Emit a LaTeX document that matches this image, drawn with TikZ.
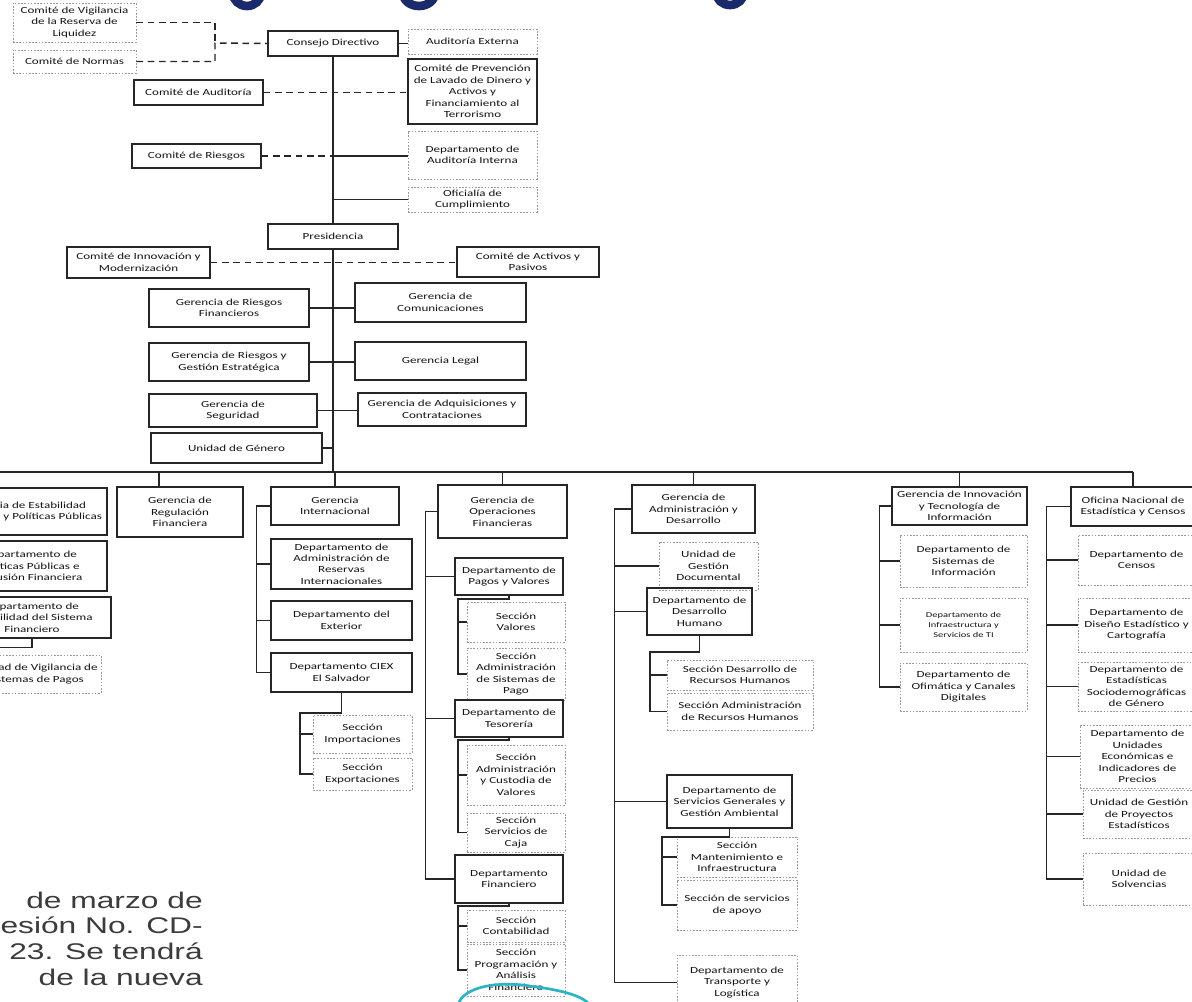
\documentclass[tikz,border=0pt]{standalone}
\usepackage{fontspec}
\setmainfont{Carlito}[FakeStretch=1.4]
\newfontfamily\notefont{Liberation Sans}[FakeStretch=1.4]
\definecolor{inkgray}{HTML}{262626}
\definecolor{softgray}{HTML}{9A9A9A}
\definecolor{titleblue}{HTML}{1B2A6B}
\definecolor{penblue}{HTML}{2DB3C6}
\definecolor{notegray}{HTML}{3C3C3C}
\tikzset{
  boxspan/.style n args={4}{at={({(#1+#3)/2},{(#2+#4)/2})}, minimum width={(#3-#1)*0.75pt}, minimum height={(#4-#2)*0.75pt}},
  orgbox/.style={align=center, inner sep=0pt, font=\fontsize{7}{8.6}\selectfont, text=black!92},
  solidbox/.style={orgbox, draw=inkgray, line width=1.1pt},
  dotbox/.style={orgbox, draw=softgray, line width=0.5pt, dash pattern=on 1.2pt off 1.2pt},
  link/.style={draw=inkgray, line width=1.1pt},
  dashlink/.style={link, dash pattern=on 5pt off 3.5pt},
  note/.style={anchor=base east, inner sep=0pt, font=\notefont\fontsize{17}{20}\selectfont, text=notegray}
}

\begin{document}
\begin{tikzpicture}[x=0.75pt,y=-0.75pt]
\useasboundingbox (0,0) rectangle (1192,1002);
\clip (0,0) rectangle (1192,1002);
\fill[white] (0,0) rectangle (1192,1002);

% cut title
\draw[titleblue, line width=6.5pt] (261,-7) arc[start angle=0, end angle=180, x radius=14, y radius=13];
\draw[titleblue, line width=6.5pt] (435,-7) arc[start angle=0, end angle=180, x radius=16, y radius=13];
\draw[titleblue, line width=6.5pt] (744,-8) arc[start angle=0, end angle=180, x radius=14, y radius=13];

% consejo y comites
\node[dotbox, boxspan={13}{3}{136}{42}] (c_vig) {Comité de Vigilancia\\de la Reserva de\\Liquidez};
\node[dotbox, boxspan={13}{50}{136}{73}] (c_nor) {Comité de Normas};
\node[solidbox, boxspan={268}{31}{398}{56}] (c_dir) {Consejo Directivo};
\node[dotbox, boxspan={408}{29}{537}{54}] (a_ext) {Auditoría Externa};
\node[solidbox, boxspan={408}{59}{537}{124}] (c_prev) {Comité de Prevención\\de Lavado de Dinero y\\Activos y\\Financiamiento al\\Terrorismo};
\node[solidbox, boxspan={134}{80}{263}{105}] (c_aud) {Comité de Auditoría};
\node[dotbox, boxspan={408}{131}{537}{179}] (d_ain) {Departamento de\\Auditoría Interna};
\node[solidbox, boxspan={132}{144}{261}{168}] (c_rie) {Comité de Riesgos};
\node[dotbox, boxspan={408}{187}{537}{212}] (of_cum) {Oficialía de\\Cumplimiento};
\node[solidbox, boxspan={268}{224}{398}{249}] (pres) {Presidencia};

% gerencias de apoyo
\node[solidbox, boxspan={67}{247}{210}{278}] (c_inn) {Comité de Innovación y\\Modernización};
\node[solidbox, boxspan={457}{247}{599}{277}] (c_act) {Comité de Activos y\\Pasivos};
\node[solidbox, boxspan={149}{289}{309}{327}] (g_rf) {Gerencia de Riesgos\\Financieros};
\node[solidbox, boxspan={355}{283}{526}{322}] (g_com) {Gerencia de\\Comunicaciones};
\node[solidbox, boxspan={149}{343}{309}{381}] (g_rge) {Gerencia de Riesgos y\\Gestión Estratégica};
\node[solidbox, boxspan={355}{342}{526}{380}] (g_leg) {Gerencia Legal};
\node[solidbox, boxspan={149}{394}{317}{427}] (g_seg) {Gerencia de\\Seguridad};
\node[solidbox, boxspan={358}{393}{526}{426}] (g_adq) {Gerencia de Adquisiciones y\\Contrataciones};
\node[solidbox, boxspan={151}{433}{322}{463}] (u_gen) {Unidad de Género};

% estabilidad financiera
\node[solidbox, boxspan={-59}{488}{107}{535}] (g_est) {Gerencia de Estabilidad\\Financiera y Políticas Públicas};
\node[solidbox, boxspan={-47}{541}{107}{591}] (d_ppi) {Departamento de\\Políticas Públicas e\\Inclusión Financiera};
\node[solidbox, boxspan={-47}{597}{111}{638}] (d_esf) {Departamento de\\Estabilidad del Sistema\\Financiero};
\node[dotbox, boxspan={-30}{655}{101}{693}] (u_vsp) {Unidad de Vigilancia de\\Sistemas de Pagos};

% regulacion
\node[solidbox, boxspan={117}{487}{243}{537}] (g_reg) {Gerencia de\\Regulación\\Financiera};

% internacional
\node[solidbox, boxspan={271}{487}{399}{525}] (g_int) {Gerencia\\Internacional};
\node[solidbox, boxspan={271}{539}{412}{589}] (d_ari) {Departamento de\\Administración de\\Reservas\\Internacionales};
\node[solidbox, boxspan={271}{601}{412}{640}] (d_ext) {Departamento del\\Exterior};
\node[solidbox, boxspan={271}{653}{412}{692}] (d_ciex) {Departamento CIEX\\El Salvador};
\node[dotbox, boxspan={313}{715}{412}{753}] (s_imp) {Sección\\Importaciones};
\node[dotbox, boxspan={313}{758}{412}{790}] (s_exp) {Sección\\Exportaciones};

% operaciones financieras
\node[solidbox, boxspan={438}{485}{567}{538}] (g_of) {Gerencia de\\Operaciones\\Financieras};
\node[solidbox, boxspan={455}{558}{563}{595}] (d_pv) {Departamento de\\Pagos y Valores};
\node[dotbox, boxspan={467}{602}{565}{642}] (s_val) {Sección\\Valores};
\node[dotbox, boxspan={467}{648}{565}{700}] (s_asp) {Sección\\Administración\\de Sistemas de\\Pago};
\node[solidbox, boxspan={455}{700}{563}{737}] (d_tes) {Departamento de\\Tesorería};
\node[dotbox, boxspan={467}{745}{565}{805}] (s_acv) {Sección\\Administración\\y Custodia de\\Valores};
\node[dotbox, boxspan={467}{813}{565}{852}] (s_caj) {Sección\\Servicios de\\Caja};
\node[solidbox, boxspan={455}{855}{563}{903}] (d_fin) {Departamento\\Financiero};
\node[dotbox, boxspan={467}{910}{565}{942}] (s_con) {Sección\\Contabilidad};
\node[dotbox, boxspan={467}{944}{565}{996}] (s_pro) {Sección\\Programación y\\Análisis\\Financiero};

% administracion y desarrollo
\node[solidbox, boxspan={632}{485}{755}{533}] (g_ad) {Gerencia de\\Administración y\\Desarrollo};
\node[dotbox, boxspan={659}{542}{758}{590}] (u_gd) {Unidad de\\Gestión\\Documental};
\node[solidbox, boxspan={647}{588}{752}{635}] (d_dh) {Departamento de\\Desarrollo\\Humano};
\node[dotbox, boxspan={667}{660}{813}{690}] (s_drh) {Sección Desarrollo de\\Recursos Humanos};
\node[dotbox, boxspan={667}{693}{813}{730}] (s_arh) {Sección Administración\\de Recursos Humanos};
\node[solidbox, boxspan={667}{775}{792}{828}] (d_sga) {Departamento de\\Servicios Generales y\\Gestión Ambiental};
\node[dotbox, boxspan={677}{837}{797}{877}] (s_mi) {Sección\\Mantenimiento e\\Infraestructura};
\node[dotbox, boxspan={677}{880}{797}{930}] (s_sa) {Sección de servicios\\de apoyo};
\node[dotbox, boxspan={677}{955}{797}{1010}] (d_tl) {Departamento de\\Transporte y\\Logística};

% innovacion y tecnologia
\node[solidbox, boxspan={892}{487}{1027}{525}] (g_iti) {Gerencia de Innovación\\y Tecnología de\\Información};
\node[dotbox, boxspan={900}{535}{1027}{587}] (d_si) {Departamento de\\Sistemas de\\Información};
\node[dotbox, boxspan={900}{598}{1027}{652}, font=\fontsize{5.6}{7.4}\selectfont] (d_ist) {Departamento de\\Infraestructura y\\Servicios de TI};
\node[dotbox, boxspan={900}{663}{1027}{711}] (d_ofi) {Departamento de\\Ofimática y Canales\\Digitales};

% estadistica y censos
\node[solidbox, boxspan={1071}{487}{1195}{526}] (o_nec) {Oficina Nacional de\\Estadística y Censos};
\node[dotbox, boxspan={1078}{535}{1195}{585}] (d_cen) {Departamento de\\Censos};
\node[dotbox, boxspan={1078}{598}{1195}{652}] (d_dec) {Departamento de\\Diseño Estadístico y\\Cartografía};
\node[dotbox, boxspan={1078}{662}{1195}{711}] (d_ess) {Departamento de\\Estadísticas\\Sociodemográficas\\de Género};
\node[dotbox, boxspan={1080}{725}{1195}{788}] (d_uei) {Departamento de\\Unidades\\Económicas e\\Indicadores de\\Precios};
\node[dotbox, boxspan={1083}{790}{1195}{838}] (u_gpe) {Unidad de Gestión\\de Proyectos\\Estadísticos};
\node[dotbox, boxspan={1083}{853}{1195}{905}] (u_sol) {Unidad de\\Solvencias};

% nota
\node[note] (n_1) at (203,908) {de marzo de};
\node[note] (n_2) at (203,933) {esión No. CD-};
\node[note] (n_3) at (203,959) {23. Se tendrá};
\node[note] (n_4) at (203,985) {de la nueva};

% lineas superiores
\coordinate (j_top) at (215,43);
\draw[dashlink] (c_vig.east) -| (j_top);
\draw[dashlink] (c_nor.east) -| (j_top) -- (c_dir.west);
\draw[link] (c_dir.east) -- (c_dir.east -| a_ext.west);
\draw[link] (c_dir.south) -- (pres.north);
\draw[dashlink] (c_aud.east) -- (c_aud.east -| c_prev.west);
\draw[dashlink] (c_rie.east) -- (c_rie.east -| c_dir.south);
\draw[link] (c_rie.east -| c_dir.south) -- (c_rie.east -| d_ain.west);
\draw[link] (of_cum.west) -- (of_cum.west -| c_dir.south);

\coordinate (bus_l) at (-5,472);
\coordinate (bus_r) at (1133,472);
\coordinate (k_reg) at (159,472);
\draw[link] (pres.south) -- (pres.south |- bus_l);
\draw[dashlink] (c_inn.east) -- (c_inn.east -| c_act.west);
\path[link] (g_rf.east) edge (g_rf.east -| g_com.west)
            (g_rge.east) edge (g_rge.east -| g_leg.west)
            (g_seg.east) edge (g_seg.east -| g_adq.west)
            (u_gen.east) edge (u_gen.east -| pres.south);

% barra y gerencias
\draw[link] (bus_l) -- (bus_r);
\path[link] (k_reg) edge (k_reg |- g_reg.north)
            (g_int.north) edge (g_int.north |- bus_l)
            (g_of.north) edge (g_of.north |- bus_l)
            (g_ad.north) edge (g_ad.north |- bus_l)
            (g_iti.north) edge (g_iti.north |- bus_l)
            (o_nec.north) edge (o_nec.north |- bus_l);

\draw[link] (d_esf.south) -- ++(0,9) -- ++(-45,0);

\draw[link] (g_int.west) -- ++(-14,0) coordinate (k_int) |- (d_ciex.west);
\path[link] (d_ari.west) edge (d_ari.west -| k_int)
            (d_ext.west) edge (d_ext.west -| k_int);
\coordinate (k_ciex) at (300,713);
\draw[link] (d_ciex.south) |- (k_ciex) |- (s_exp.west);
\draw[link] (s_imp.west) -- (s_imp.west -| k_ciex);

\draw[link] (g_of.west) -- ++(-12,0) coordinate (k_of) |- (d_fin.west);
\path[link] (d_pv.west) edge (d_pv.west -| k_of)
            (d_tes.west) edge (d_tes.west -| k_of);
\coordinate (k_pv) at (458,599);
\coordinate (k_tes) at (458,740);
\coordinate (k_fin) at (458,906);
\draw[link] (d_pv.south) |- (k_pv) |- (s_asp.west);
\draw[link] (s_val.west) -- (s_val.west -| k_pv);
\draw[link] (d_tes.south) |- (k_tes) |- (s_caj.west);
\draw[link] (s_acv.west) -- (s_acv.west -| k_tes);
\draw[link] (d_fin.south) |- (k_fin) |- (s_pro.west);
\draw[link] (s_con.west) -- (s_con.west -| k_fin);

\draw[link] (g_ad.west) -- ++(-17,0) coordinate (k_ad) |- (d_tl.west);
\path[link] (u_gd.west) edge (u_gd.west -| k_ad)
            (d_dh.west) edge (d_dh.west -| k_ad)
            (d_sga.west) edge (d_sga.west -| k_ad);
\coordinate (k_dh) at (650,652);
\coordinate (k_sga) at (662,837);
\draw[link] (d_dh.south) |- (k_dh) |- (s_arh.west);
\draw[link] (s_drh.west) -- (s_drh.west -| k_dh);
\draw[link] (d_sga.south) |- (k_sga) |- (s_sa.west);
\draw[link] (s_mi.west) -- (s_mi.west -| k_sga);

\draw[link] (g_iti.west) -- ++(-12,0) coordinate (k_iti) |- (d_ofi.west);
\path[link] (d_si.west) edge (d_si.west -| k_iti)
            (d_ist.west) edge (d_ist.west -| k_iti);

\draw[link] (o_nec.west) -- ++(-24,0) coordinate (k_nec) |- (u_sol.west);
\path[link] (d_cen.west) edge (d_cen.west -| k_nec)
            (d_dec.west) edge (d_dec.west -| k_nec)
            (d_ess.west) edge (d_ess.west -| k_nec)
            (d_uei.west) edge (d_uei.west -| k_nec)
            (u_gpe.west) edge (u_gpe.west -| k_nec);

% trazo a mano
\draw[penblue, line width=2pt] (458,1005) .. controls (463,986) and (500,981) .. (530,986) .. controls (560,990) and (582,995) .. (590,1005);
\end{tikzpicture}
\end{document}
